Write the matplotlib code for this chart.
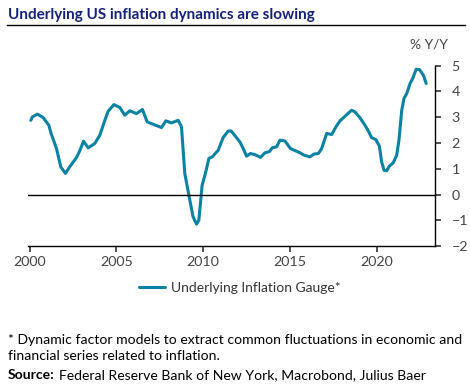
"""Underlying US inflation gauge, 2000-2022."""

import matplotlib.pyplot as plt

plt.rcParams["font.family"] = ["Lato", "DejaVu Sans"]

years = [
    2000.06, 2000.15, 2000.44, 2000.77, 2001.1, 2001.25, 2001.54, 2001.79, 2002.06,
    2002.3, 2002.7, 2002.9, 2003.1, 2003.37, 2003.75, 2004.04, 2004.33, 2004.52,
    2004.85, 2005.19, 2005.48, 2005.77, 2006.15, 2006.5, 2006.77, 2007.1, 2007.6,
    2007.85, 2008.17, 2008.56, 2008.75, 2008.94, 2009.23, 2009.42, 2009.62, 2009.75,
    2009.94, 2010.13, 2010.33, 2010.52, 2010.87, 2011.15, 2011.44, 2011.6, 2011.73,
    2012.12, 2012.31, 2012.5, 2012.73, 2012.98, 2013.31, 2013.56, 2013.81, 2014.0,
    2014.23, 2014.43, 2014.71, 2014.9, 2015.04, 2015.35, 2015.58, 2015.81, 2016.16,
    2016.39, 2016.64, 2016.83, 2017.12, 2017.41, 2017.66, 2017.89, 2018.18, 2018.56,
    2018.75, 2019.04, 2019.33, 2019.52, 2019.71, 2019.96, 2020.16, 2020.29, 2020.43,
    2020.58, 2020.73, 2020.96, 2021.16, 2021.29, 2021.45, 2021.58, 2021.74, 2021.93,
    2022.08, 2022.28, 2022.47, 2022.7, 2022.86,
]
uig = [
    2.88, 3.01, 3.12, 2.99, 2.69, 2.33, 1.79, 1.07, 0.82,
    1.07, 1.44, 1.72, 2.07, 1.81, 1.98, 2.30, 2.88, 3.23,
    3.49, 3.38, 3.08, 3.25, 3.14, 3.30, 2.82, 2.73, 2.60,
    2.86, 2.78, 2.88, 2.63, 0.82, -0.22, -0.87, -1.15, -1.00,
    0.36, 0.82, 1.40, 1.46, 1.72, 2.21, 2.46, 2.47, 2.37,
    2.04, 1.78, 1.49, 1.59, 1.55, 1.44, 1.62, 1.66, 1.82,
    1.85, 2.11, 2.08, 1.91, 1.78, 1.69, 1.62, 1.53, 1.46,
    1.57, 1.59, 1.78, 2.37, 2.33, 2.63, 2.86, 3.04, 3.27,
    3.21, 2.98, 2.69, 2.47, 2.21, 2.13, 1.88, 1.27, 0.94,
    0.92, 1.10, 1.23, 1.53, 2.11, 3.27, 3.73, 3.92, 4.31,
    4.50, 4.86, 4.85, 4.63, 4.31,
]
x_ticks = [2000, 2005, 2010, 2015, 2020]
y_ticks = [-2, -1, 0, 1, 2, 3, 4, 5]

LINE = "#0a82a3"
NAVY = "#14207a"
GREY = "#444444"

fig = plt.figure(figsize=(4.7, 3.87), dpi=100)
ax = fig.add_axes([0.0596, 0.3643, 0.866, 0.4659])

ax.plot(years, uig, color=LINE, lw=2.2, solid_capstyle="round", solid_joinstyle="round",
        label="Underlying Inflation Gauge*")
ax.axhline(0, color="black", lw=1.0)

ax.set_xlim(1999.9, 2023.37)
ax.set_ylim(-2, 5)
ax.set_xticks(x_ticks)
ax.set_yticks(y_ticks)
ax.yaxis.tick_right()
for s in ("left", "top"):
    ax.spines[s].set_visible(False)
for s in ("right", "bottom"):
    ax.spines[s].set_color("black")
    ax.spines[s].set_linewidth(1.0)
ax.tick_params(axis="both", colors="#333333", labelcolor=GREY, labelsize=10.3, length=4, width=1.2)
ax.tick_params(axis="y", pad=8)

fig.text(0.913, 0.875, "% Y/Y", fontsize=10, color=GREY, ha="center")

fig.text(0.017, 0.962, "Underlying US inflation dynamics are slowing", fontsize=11,
         fontweight="bold", color=NAVY, va="center")
fig.add_artist(plt.Line2D([0.015, 0.99], [0.935, 0.935], color="black", lw=1.0))

ax.legend(loc="upper center", bbox_to_anchor=(0.52, -0.13), frameon=False, fontsize=10,
          handlelength=1.9, handletextpad=0.4, labelcolor="#333333")

fig.text(0.017, 0.122, "* Dynamic factor models to extract common fluctuations in economic and",
         fontsize=10.1, color="black", va="center")
fig.text(0.017, 0.080, "financial series related to inflation.", fontsize=10.1, color="black",
         va="center")
src = fig.text(0.017, 0.031, "Source:", fontsize=10.1, fontweight="bold", color="black",
               va="center")
fig.canvas.draw()
bb = src.get_window_extent().transformed(fig.transFigure.inverted())
fig.text(bb.x1 + 0.008, 0.031, "Federal Reserve Bank of New York, Macrobond, Julius Baer",
         fontsize=10.1, color="black", va="center")

plt.savefig("out.png", dpi=100)
